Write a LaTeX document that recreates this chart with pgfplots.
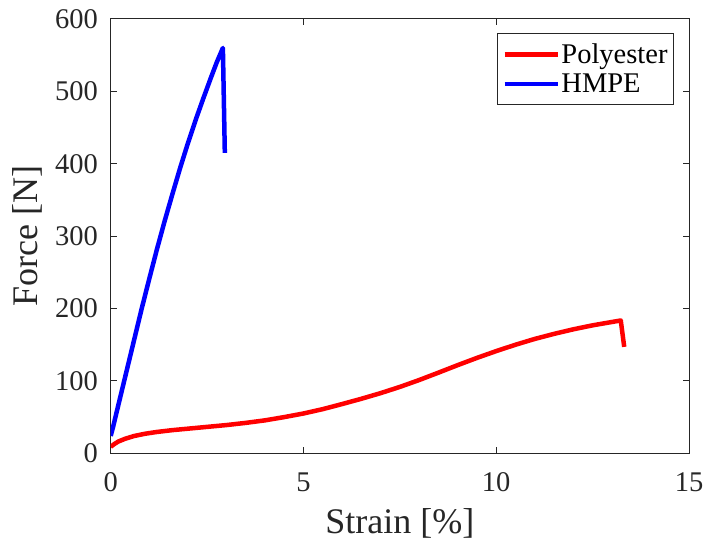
\documentclass[border=0pt]{standalone}
\usepackage{fontspec}
\setmainfont{Liberation Serif}
\usepackage{pgfplots}
\pgfplotsset{compat=1.18}

\definecolor{axgray}{rgb}{0.15,0.15,0.15}
\newcommand{\tickfont}{\fontsize{28.5bp}{34bp}\selectfont}
\newcommand{\labfont}{\fontsize{36bp}{42bp}\selectfont}

\begin{document}
\begin{tikzpicture}
\begin{axis}[
    scale only axis,
    width=578.3bp, height=434.3bp,
    xmin=0, xmax=15, ymin=0, ymax=600,
    xtick={0,5,10,15}, ytick={0,100,...,600},
    tick align=inside,
    major tick length=6bp,
    axis line style={axgray, line width=1bp},
    tick style={axgray, line width=1bp},
    /pgf/number format/assume math mode=true,
    tick label style={font=\tickfont, text=axgray, inner sep=0pt},
    xticklabel style={anchor=north, yshift=-19.4bp},
    yticklabel style={anchor=east, xshift=-12.5bp},
    xlabel={Strain [\%]},
    ylabel={Force [N]},
    label style={font=\labfont, text=axgray, inner sep=0pt},
    xlabel style={at={(axis description cs:0.5,-0.1842)}, anchor=base},
    ylabel style={at={(axis description cs:-0.1274,0.5)}, anchor=base, rotate=0},
    legend style={at={(axis description cs:0.9741,0.9671)}, anchor=north east,
        draw=axgray, line width=1bp, fill=white, font=\tickfont,
        inner xsep=4.5bp, inner ysep=8.5bp, row sep=6bp,
        nodes={inner sep=1.5bp}},
    legend cell align=left,
    legend image code/.code={\draw[#1] (0bp,0bp) -- (53bp,0bp);},
    every axis plot/.append style={line width=4.5bp, line join=round, line cap=butt},
]
\addplot[color={rgb,1:red,1;green,0;blue,0}] coordinates {
    (0,9) (0.1,13) (0.2,16.3) (0.37,20) (0.6,23.8) (0.89,27) (1.2,29.5)
    (1.6,32) (2.0,34) (2.5,36.5) (3.0,39) (3.5,42) (4.0,45.5) (4.5,50)
    (5.0,55) (5.5,61) (6.0,68) (6.5,75.3) (7.0,83.1) (7.5,91.7) (8.0,101.2)
    (8.5,111.4) (9.0,121.8) (9.5,131.8) (10.0,141.2) (10.5,150) (11.0,158)
    (11.5,165) (12.0,171.3) (12.5,176.8) (13.0,181.4) (13.23,183.5) (13.32,147)
};
\addlegendentry{Polyester}
\addplot[color={rgb,1:red,0;green,0;blue,1}] coordinates {
    (0,24) (0.06,36) (0.15,56) (0.25,78) (0.35,100) (0.5,133) (0.65,166)
    (0.8,199) (1.0,241) (1.2,282) (1.4,321) (1.6,358) (1.8,394) (2.0,428)
    (2.2,460) (2.4,490) (2.6,519) (2.75,540) (2.91,560) (2.96,415)
};
\addlegendentry{HMPE}
\end{axis}
\pgfresetboundingbox
\path[use as bounding box] ([xshift=-110.7bp,yshift=-89.7bp]current axis.south west)
    rectangle ([xshift=18bp,yshift=19bp]current axis.north east);
\end{tikzpicture}
\end{document}
